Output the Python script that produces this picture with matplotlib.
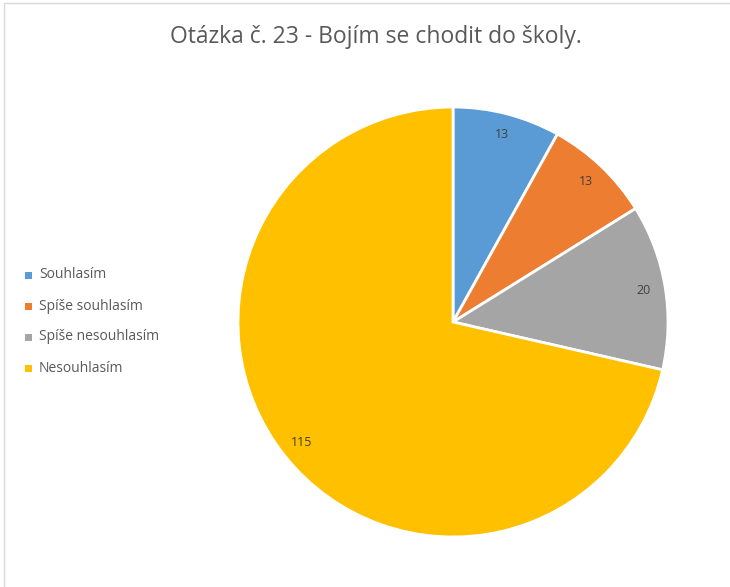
import matplotlib
matplotlib.use('Agg')
import matplotlib.pyplot as plt
from matplotlib.patches import Rectangle

plt.rcParams['font.family'] = ['Open Sans', 'DejaVu Sans']

categories = ['Souhlasím', 'Spíše souhlasím', 'Spíše nesouhlasím', 'Nesouhlasím']
counts = [13, 13, 20, 115]
colors = ['#5B9BD5', '#ED7D31', '#A5A5A5', '#FFC000']

W, H = 730, 587
fig = plt.figure(figsize=(W / 100, H / 100), dpi=100)
fig.patch.set_facecolor('white')

# thin grey frame around the chart area
fig.add_artist(Rectangle((4 / W, -0.01), 1.0, 1 - 3 / H + 0.01, transform=fig.transFigure,
                         fill=False, edgecolor='#D9D9D9', lw=1.0))

total = sum(counts)
cx, cy, r = 453, 322, 215
ax = fig.add_axes([(cx - r) / W, 1 - (cy + r) / H, 2 * r / W, 2 * r / H])
wedges, texts, autotexts = ax.pie(
    counts, colors=colors, startangle=90, counterclock=False,
    autopct=lambda p: f'{round(p * total / 100)}', pctdistance=0.9,
    wedgeprops=dict(edgecolor='white', linewidth=2),
    textprops=dict(color='#404040', fontsize=9))
ax.set_aspect('equal')
ax.set_xlim(-1, 1)
ax.set_ylim(-1, 1)
ax.axis('off')

fig.text(376 / W, 1 - 37 / H, 'Otázka č. 23 - Bojím se chodit do školy.',
         ha='center', va='center', fontsize=16.5, color='#595959')

# legend on the left
for i, (lab, col) in enumerate(zip(categories, colors)):
    y = 1 - (275 + i * 31) / H
    fig.add_artist(Rectangle((25 / W, y - 3.5 / H), 7 / W, 7 / H, transform=fig.transFigure,
                             facecolor=col, edgecolor='none'))
    fig.text(39 / W, y, lab, ha='left', va='center', fontsize=10, color='#595959')

plt.savefig('out.png', dpi=100, facecolor='white')
